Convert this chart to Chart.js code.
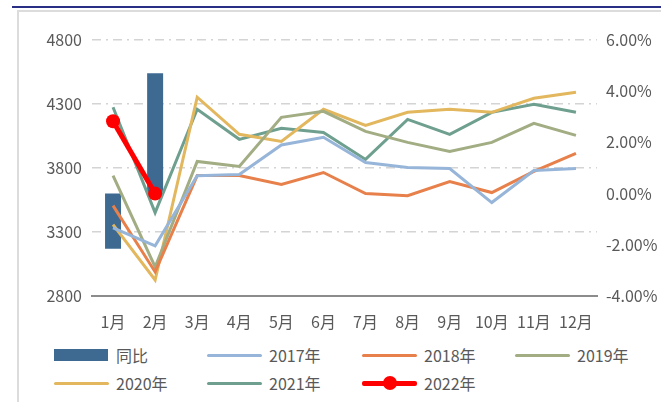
<!DOCTYPE html>
<html>
<head>
<meta charset="utf-8">
<script src="https://cdn.jsdelivr.net/npm/chart.js@4/dist/chart.umd.min.js"></script>
<style>
  html, body { margin: 0; padding: 0; background: #fff; }
  body { width: 661px; height: 402px; position: relative; overflow: hidden;
         font-family: "Noto Sans CJK SC", "Noto Sans", sans-serif; }
  #topline { position: absolute; left: 12px; top: 6px; width: 649px; height: 2px; background: #2a2f86; }
  #frame { position: absolute; left: 17px; top: 10px; width: 660px; height: 400px;
           border-left: 2px solid #dcdcdc; border-top: 2px solid #dcdcdc; }
  #wrap { position: absolute; left: 0; top: 0; width: 661px; height: 340px; }
  #legend { position: absolute; left: 0; top: 340px; width: 661px; height: 62px; }
  .item { position: absolute; height: 24px; display: flex; align-items: center;
          font-size: 16px; color: #595959; }
  .sw { width: 55px; height: 24px; position: relative; margin-right: 7px; }
</style>
</head>
<body>
<div id="topline"></div>
<div id="frame"></div>
<div id="wrap"><canvas id="c"></canvas></div>
<div id="legend"></div>
<script>
const months = ['1月','2月','3月','4月','5月','6月','7月','8月','9月','10月','11月','12月'];
const yoy = [-2.15, 4.7];
const y2017 = [3333, 3192, 3740, 3750, 3980, 4040, 3843, 3804, 3796, 3530, 3780, 3796];
const y2018 = [3506, 2988, 3741, 3741, 3671, 3765, 3600, 3584, 3694, 3608, 3773, 3914];
const y2019 = [3741, 3027, 3851, 3812, 4196, 4243, 4086, 4000, 3929, 4000, 4149, 4055];
const y2020 = [3357, 2925, 4353, 4063, 4008, 4259, 4133, 4235, 4259, 4235, 4345, 4392];
const y2021 = [4275, 3451, 4259, 4024, 4110, 4078, 3867, 4180, 4063, 4235, 4298, 4235];
const y2022 = [4165, 3600];

const leftTicks = [2800, 3300, 3800, 4300, 4800];

function line(label, data, color) {
  return { type: 'line', label, data, borderColor: color, backgroundColor: color,
           borderWidth: 3, pointRadius: 0, tension: 0, yAxisID: 'y', order: 1 };
}

const datasets = [
  { type: 'bar', label: '同比', data: yoy, backgroundColor: '#3e6a92', yAxisID: 'y1',
    barPercentage: 0.38, categoryPercentage: 1, order: 10 },
  line('2017年', y2017, '#96b5d8'),
  line('2018年', y2018, '#e7804a'),
  line('2019年', y2019, '#a2ad83'),
  line('2020年', y2020, '#e2b75d'),
  line('2021年', y2021, '#6fa08f'),
  { type: 'line', label: '2022年', data: y2022, borderColor: '#ff0000', backgroundColor: '#ff0000',
    borderWidth: 5, pointRadius: 7, pointBorderWidth: 0, tension: 0, yAxisID: 'y', order: 0 }
];

const tickFont = { family: '"Noto Sans CJK SC", "Noto Sans", sans-serif', size: 16 };

new Chart(document.getElementById('c'), {
  data: { labels: months, datasets },
  options: {
    responsive: true, maintainAspectRatio: false, animation: false,
    layout: { padding: { left: 17, right: 0, top: 40, bottom: 0 } },
    plugins: { legend: { display: false }, tooltip: { enabled: false } },
    scales: {
      x: {
        grid: { display: false },
        border: { display: true, color: '#8c8c8c', width: 2 },
        ticks: { color: '#595959', font: tickFont, padding: 8, maxRotation: 0, autoSkip: false },
        afterFit: s => { s.height = 44; }
      },
      y: {
        position: 'left', min: 2800, max: 4800,
        afterBuildTicks: s => { s.ticks = leftTicks.map(v => ({ value: v })); },
        grid: {
          color: ctx => ctx.tick && ctx.tick.value === 2800 ? 'rgba(0,0,0,0)' : '#d4d4d4',
          lineWidth: 1.5, drawTicks: false
        },
        border: { display: false, dash: [9, 5, 2, 5] },
        ticks: { color: '#595959', font: tickFont, padding: 10, callback: v => String(v) },
        afterFit: s => { s.width = 75; }
      },
      y1: {
        position: 'right', min: -4, max: 6,
        grid: { display: false, drawTicks: false },
        border: { display: false },
        ticks: { stepSize: 2, color: '#595959', font: tickFont, padding: 9,
                 callback: v => v.toFixed(2) + '%' },
        afterFit: s => { s.width = 64; }
      }
    }
  }
});

// HTML legend built from the datasets
const cols = [54, 207, 362, 515];
const legend = document.getElementById('legend');
datasets.forEach((d, i) => {
  const row = Math.floor(i / 4), col = i % 4;
  const item = document.createElement('div');
  item.className = 'item';
  item.style.left = cols[col] + 'px';
  item.style.top = (3 + row * 28) + 'px';
  const sw = document.createElement('div');
  sw.className = 'sw';
  if (d.type === 'bar') {
    sw.innerHTML = '<div style="position:absolute;left:0;top:6px;width:54px;height:12px;background:' + d.backgroundColor + '"></div>';
  } else {
    const h = d.borderWidth;
    let html = '<div style="position:absolute;left:0;top:' + (12 - h / 2) + 'px;width:55px;height:' + h + 'px;background:' + d.borderColor + ';border-radius:2px"></div>';
    if (d.pointRadius) {
      html += '<div style="position:absolute;left:' + (27.5 - d.pointRadius) + 'px;top:' + (12 - d.pointRadius) + 'px;width:' + (2 * d.pointRadius) + 'px;height:' + (2 * d.pointRadius) + 'px;border-radius:50%;background:' + d.borderColor + '"></div>';
    }
    sw.innerHTML = html;
  }
  const t = document.createElement('span');
  t.textContent = d.label;
  item.appendChild(sw);
  item.appendChild(t);
  legend.appendChild(item);
});
</script>
</body>
</html>
